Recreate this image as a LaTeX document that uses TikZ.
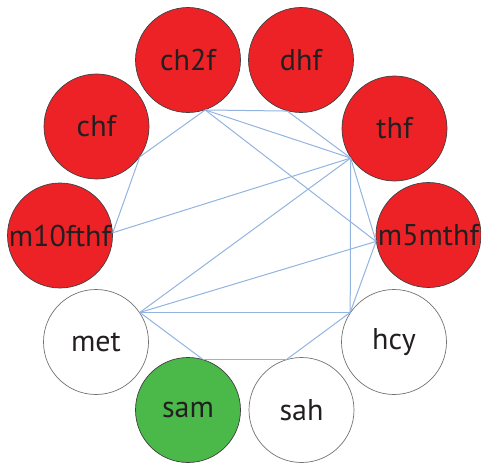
\documentclass[tikz,border=0pt]{standalone}
\usepackage{fontspec}
\setmainfont{PT Sans}
\definecolor{nred}{HTML}{EC2227}
\definecolor{ngreen}{HTML}{4BB84A}
\definecolor{edgeblue}{HTML}{93B3E0}
\definecolor{txt}{HTML}{231F20}
\tikzset{
  circ/.style={circle, minimum size=105pt, inner sep=0pt, draw=black!75, line width=0.7pt, text=txt, font=\fontsize{30}{30}\selectfont},
  redc/.style={circ, fill=nred},
  whitec/.style={circ, fill=white, draw=black!55},
  greenc/.style={circ, fill=ngreen},
  link/.style={draw=edgeblue, line width=1pt}
}
\begin{document}
\begin{tikzpicture}[x=1pt,y=-1pt]
\useasboundingbox (0,0) rectangle (481,465);
\node[redc] (ch2f) at (188,60) {ch2f};
\node[redc] (dhf) at (301,60) {dhf};
\node[redc] (chf) at (96.5,126.5) {chf};
\node[redc] (thf) at (394.5,128.5) {thf};
\node[redc] (m10fthf) at (60,235.5) {m10fthf};
\node[redc] (m5mthf) at (428.5,235) {m5mthf};
\node[whitec] (met) at (96,342) {met};
\node[whitec] (hcy) at (394,342) {hcy};
\node[greenc] (sam) at (188,410) {sam};
\node[whitec] (sah) at (301.5,410) {sah};
\path[link] (ch2f.-71) -- (chf.-35.5);
\path[link] (ch2f.-71) -- (dhf.-105.5);
\path[link] (ch2f.-71) -- (thf.214);
\path[link] (ch2f.-71) -- (m5mthf.187);
\path[link] (dhf.-105.5) -- (thf.214);
\path[link] (chf.-35.5) -- (m10fthf.3);
\path[link] (m10fthf.3) -- (thf.214);
\path[link] (thf.214) -- (met.34);
\path[link] (thf.214) -- (hcy.146);
\path[link] (thf.214) -- (m5mthf.187);
\path[link] (m5mthf.187) -- (met.34);
\path[link] (m5mthf.187) -- (hcy.146);
\path[link] (met.34) -- (hcy.146);
\path[link] (met.34) -- (sam.74);
\path[link] (sam.74) -- (sah.106);
\path[link] (sah.106) -- (hcy.146);
\end{tikzpicture}
\end{document}
